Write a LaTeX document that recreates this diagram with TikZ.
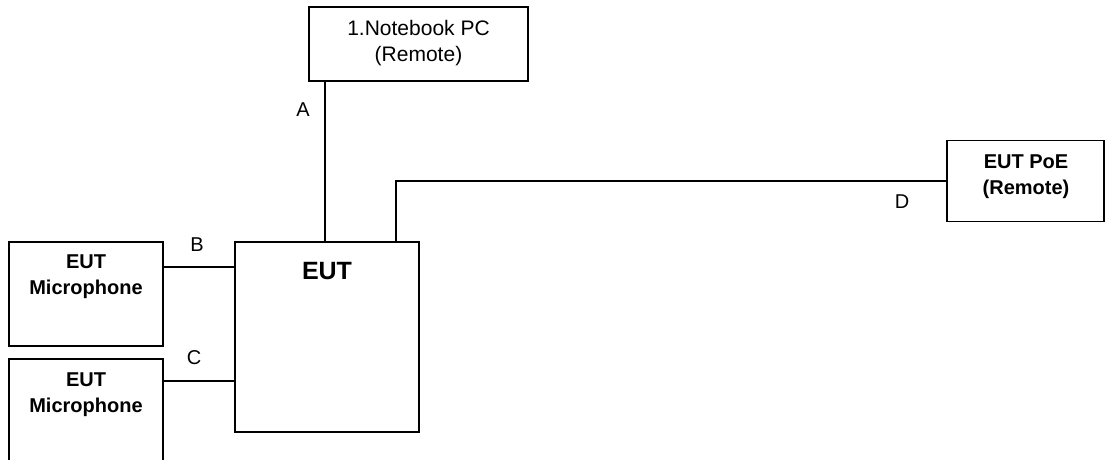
\documentclass[tikz,border=0pt]{standalone}
\usepackage{fontspec}
\setmainfont{Liberation Sans}
\begin{document}
\begin{tikzpicture}[x=1pt,y=-1pt,
  box/.style={draw, line width=1.5pt, rectangle, inner sep=0pt},
  wire/.style={line width=1.5pt},
  lbl/.style={font=\fontsize{20}{24}\selectfont, inner sep=0pt},
  rtxt/.style={font=\fontsize{21}{26}\selectfont, align=center, inner sep=0pt},
  btxt/.style={font=\fontsize{20}{26}\selectfont\bfseries, align=center, inner sep=0pt},
  bigtxt/.style={font=\fontsize{25}{30}\selectfont\bfseries, inner sep=0pt}]
\useasboundingbox (0,0) rectangle (1106,459);
\clip (0,0) rectangle (1106,459);
% boxes
\node[box, minimum width=219pt, minimum height=74pt] (nb) at (418.5,44) {};
\node[box, minimum width=184pt, minimum height=190pt] (eut) at (327,337) {};
\node[box, minimum width=157pt, minimum height=81pt] (poe) at (1025.5,181) {};
\node[box, minimum width=154pt, minimum height=104pt] (mic1) at (86,294) {};
\node[box, minimum width=154pt, minimum height=130pt] (mic2) at (86,424) {};
% texts
\node[rtxt] (nbt) at (418.5,43) {1.Notebook PC\\(Remote)};
\node[bigtxt] (eutt) at (327,271) {EUT};
\node[btxt] (poet) at (1026,176.5) {EUT PoE\\(Remote)};
\node[btxt] (mic1t) at (86,277) {EUT\\Microphone};
\node[btxt] (mic2t) at (86,395) {EUT\\Microphone};
% connector coordinates
\coordinate (ax) at (325,0);
\coordinate (dx) at (396,0);
\coordinate (by) at (0,267);
\coordinate (cy) at (0,381);
% connectors
\draw[wire] (nb.south -| ax) -- (eut.north -| ax);
\draw[wire] (eut.north -| dx) |- (poe.west);
\draw[wire] (mic1.east |- by) -- (eut.west |- by);
\draw[wire] (mic2.east |- cy) -- (eut.west |- cy);
% labels
\node[lbl] (la) at (303,110) {A};
\node[lbl] (lb) at (197,245) {B};
\node[lbl] (lc) at (194,358) {C};
\node[lbl] (ld) at (902,202) {D};
\end{tikzpicture}
\end{document}
